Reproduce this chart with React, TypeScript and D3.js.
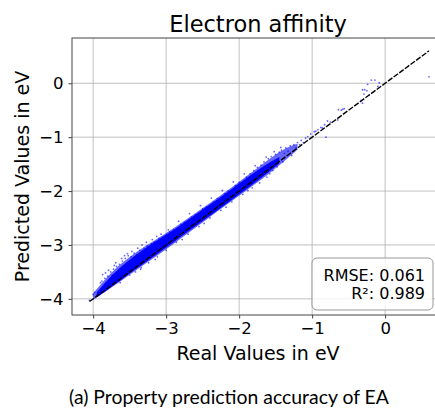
import React, { useEffect, useRef } from "react";
import * as d3 from "d3";

// values (eV)
const xTicks = [-4, -3, -2, -1, 0];
const yTicks = [-4, -3, -2, -1, 0];

// dense core of the cloud: real value -> predicted range
const coreReal = [-3.95, -3.8, -3.6, -3.4, -3.2, -3.0, -2.8, -2.6, -2.4, -2.2, -2.0, -1.8, -1.6, -1.45];
const coreLow = [-3.97, -3.83, -3.63, -3.43, -3.24, -3.05, -2.85, -2.65, -2.46, -2.26, -2.06, -1.86, -1.65, -1.49];
const coreHigh = [-3.88, -3.64, -3.38, -3.17, -2.98, -2.81, -2.63, -2.44, -2.25, -2.06, -1.86, -1.66, -1.48, -1.37];

// lighter halo around the core
const haloReal = [-4.0, -3.8, -3.6, -3.4, -3.2, -3.0, -2.8, -2.6, -2.4, -2.2, -2.0, -1.8, -1.6, -1.4, -1.2];
const haloLow = [-4.02, -3.84, -3.65, -3.46, -3.27, -3.08, -2.88, -2.68, -2.48, -2.28, -2.09, -1.89, -1.69, -1.47, -1.23];
const haloHigh = [-3.9, -3.57, -3.32, -3.12, -2.95, -2.78, -2.6, -2.41, -2.22, -2.03, -1.83, -1.62, -1.42, -1.22, -1.12];

// loose points [real, predicted]
const points = [
  [-4.05, -4.03], [-4.0, -3.92], [-3.98, -3.88], [-3.95, -3.93], [-3.9, -3.7], [-3.88, -3.67],
  [-3.86, -3.8], [-3.84, -3.62], [-3.82, -3.75], [-3.8, -3.58], [-3.78, -3.66], [-3.76, -3.5],
  [-3.74, -3.56], [-3.72, -3.45], [-3.7, -3.62], [-3.68, -3.4], [-3.66, -3.52], [-3.64, -3.36],
  [-3.63, -3.7], [-3.62, -3.46], [-3.6, -3.3], [-3.58, -3.42], [-3.56, -3.25], [-3.54, -3.36],
  [-3.52, -3.2], [-3.5, -3.56], [-3.48, -3.22], [-3.46, -3.3], [-3.44, -3.15], [-3.42, -3.5],
  [-3.4, -3.18], [-3.36, -3.1], [-3.34, -3.42], [-3.3, -3.08], [-3.26, -3.02], [-3.24, -3.33],
  [-3.2, -2.98], [-3.16, -2.95], [-3.12, -3.22], [-3.1, -2.88], [-3.05, -2.86], [-3.0, -3.1],
  [-2.95, -2.76], [-2.9, -2.72], [-2.86, -2.95], [-2.8, -2.62], [-2.75, -2.58], [-2.7, -2.8],
  [-2.65, -2.48], [-2.6, -2.44], [-2.55, -2.66], [-2.5, -2.33], [-2.45, -2.3], [-2.4, -2.5],
  [-2.35, -2.2], [-2.3, -2.14], [-2.25, -2.36], [-2.2, -2.05], [-2.15, -2.0], [-2.1, -2.2],
  [-2.05, -1.9], [-2.0, -1.84], [-1.95, -2.06], [-1.9, -1.74], [-1.85, -1.68], [-1.82, -1.94],
  [-1.8, -1.62], [-1.75, -1.56], [-1.72, -1.85], [-1.7, -1.52], [-1.66, -1.46], [-1.62, -1.74],
  [-1.6, -1.4], [-1.56, -1.36], [-1.54, -1.62], [-1.5, -1.32], [-1.48, -1.55], [-1.45, -1.28],
  [-1.42, -1.24], [-1.4, -1.46], [-1.38, -1.3], [-1.36, -1.2], [-1.33, -1.26], [-1.3, -1.16],
  [-1.28, -1.34], [-1.25, -1.14], [-1.22, -1.2], [-1.2, -1.1], [-1.17, -1.14], [-1.15, -1.06],
  [-1.12, -1.1], [-1.09, -1.02], [-1.06, -0.99], [-1.02, -0.94], [-0.97, -0.9], [-0.95, -0.89],
  [-0.92, -0.86], [-0.88, -0.82], [-0.86, -0.83], [-0.83, -0.77], [-0.81, -1.0], [-0.79, -0.7],
  [-0.75, -0.72], [-0.65, -0.68], [-0.64, -0.49], [-0.6, -0.5], [-0.58, -0.48], [-0.56, -0.47],
  [-0.33, -0.32], [-0.31, -0.37], [-0.31, -0.12], [-0.29, -0.2], [-0.28, -0.12], [-0.25, -0.14],
  [-0.24, -0.02], [-0.22, -0.22], [-0.19, 0.06], [-0.14, 0.06], [-0.1, -0.06], [-0.08, 0.01],
  [0.6, 0.12],
  [-3.87, -3.55], [-3.83, -3.52], [-3.79, -3.47], [-3.71, -3.38], [-3.69, -3.33], [-3.61, -3.25],
  [-3.57, -3.2], [-3.53, -3.16], [-3.47, -3.12], [-3.39, -3.06], [-3.33, -3.0], [-3.27, -2.95],
  [-3.19, -2.9], [-3.13, -2.84], [-3.07, -2.8], [-2.97, -2.72], [-2.83, -2.56], [-2.68, -2.42],
  [-2.53, -2.27], [-2.38, -2.13], [-2.23, -1.99], [-2.08, -1.83], [-1.93, -1.68], [-1.78, -1.53],
  [-1.63, -1.37], [-1.52, -1.27], [-1.43, -1.19], [-3.35, -3.45], [-3.15, -3.27], [-2.78, -2.9],
  [-2.48, -2.6], [-2.18, -2.3], [-1.88, -1.99], [-1.58, -1.68],
];

const parityLine = [[-4.05, -4.05], [0.6, 0.6]];
const statLines = ["RMSE: 0.061", "R\u00b2: 0.989"];

const FONT = "DejaVu Sans, sans-serif";

export default function App() {
  const ref = useRef<SVGSVGElement>(null);

  useEffect(() => {
    const svg = d3.select(ref.current);
    svg.selectAll("*").remove();

    const left = 72, right = 435.5, top = 38, bottom = 315;
    const x = d3.scaleLinear().domain([-4.29, 0.69]).range([left, right]);
    const y = d3.scaleLinear().domain([-4.3, 0.84]).range([bottom, top]);

    svg.append("rect").attr("width", 435).attr("height", 412).attr("fill", "#fff");

    // grid
    const grid = svg.append("g").attr("stroke", "#b0b0b0").attr("stroke-width", 0.8);
    xTicks.forEach(t => {
      grid.append("line").attr("x1", x(t)).attr("x2", x(t)).attr("y1", top).attr("y2", bottom);
    });
    yTicks.forEach(t => {
      grid.append("line").attr("x1", left).attr("x2", right).attr("y1", y(t)).attr("y2", y(t));
    });

    const plot = svg.append("g");
    const band = d3
      .area<number[]>()
      .x(d => x(d[0]))
      .y0(d => y(d[1]))
      .y1(d => y(d[2]))
      .curve(d3.curveBasis);

    const halo = haloReal.map((r, i) => [r, haloLow[i], haloHigh[i]]);
    plot
      .append("path")
      .datum(halo)
      .attr("fill", "#0000ff")
      .attr("fill-opacity", 0.6)
      .attr("d", band);

    const core = coreReal.map((r, i) => [r, coreLow[i], coreHigh[i]]);
    plot
      .append("path")
      .datum(core)
      .attr("fill", "#0000ff")
      .attr("d", band);

    plot
      .selectAll("circle")
      .data(points)
      .enter()
      .append("circle")
      .attr("cx", d => x(d[0]))
      .attr("cy", d => y(d[1]))
      .attr("r", 0.9)
      .attr("fill", "#0000ff")
      .attr("fill-opacity", 0.6);

    plot
      .append("path")
      .datum(parityLine)
      .attr("fill", "none")
      .attr("stroke", "#000")
      .attr("stroke-width", 1.4)
      .attr("stroke-dasharray", "5.5,1.5")
      .attr("d", d3.line<number[]>().x(d => x(d[0])).y(d => y(d[1])));

    // frame (right side runs off the picture)
    svg
      .append("rect")
      .attr("x", left)
      .attr("y", top)
      .attr("width", right - left + 2)
      .attr("height", bottom - top)
      .attr("fill", "none")
      .attr("stroke", "#444")
      .attr("stroke-width", 1);

    // axes
    svg
      .append("g")
      .attr("transform", `translate(0,${bottom})`)
      .call(d3.axisBottom(x).tickValues(xTicks).tickSize(3.5).tickPadding(4).tickFormat(d3.format("d")))
      .call(g => g.select(".domain").remove())
      .call(g => g.selectAll("line").attr("stroke", "#444"))
      .call(g => g.selectAll("text").attr("font-family", FONT).attr("font-size", 16.5).attr("fill", "#000"));

    svg
      .append("g")
      .attr("transform", `translate(${left},0)`)
      .call(d3.axisLeft(y).tickValues(yTicks).tickSize(3.5).tickPadding(5).tickFormat(d3.format("d")))
      .call(g => g.select(".domain").remove())
      .call(g => g.selectAll("line").attr("stroke", "#444"))
      .call(g => g.selectAll("text").attr("font-family", FONT).attr("font-size", 16.5).attr("fill", "#000"));

    // stats box
    svg
      .append("rect")
      .attr("x", 312)
      .attr("y", 258)
      .attr("width", 121)
      .attr("height", 52)
      .attr("rx", 5)
      .attr("fill", "#fff")
      .attr("fill-opacity", 0.8)
      .attr("stroke", "#999")
      .attr("stroke-width", 1);

    statLines.forEach((s, i) => {
      svg
        .append("text")
        .attr("x", 425)
        .attr("y", 281 + i * 17.5)
        .attr("text-anchor", "end")
        .attr("font-family", FONT)
        .attr("font-size", 16)
        .text(s);
    });

    svg
      .append("text")
      .attr("x", 258)
      .attr("y", 32)
      .attr("text-anchor", "middle")
      .attr("font-family", FONT)
      .attr("font-size", 22.5)
      .text("Electron affinity");

    svg
      .append("text")
      .attr("x", 258)
      .attr("y", 360)
      .attr("text-anchor", "middle")
      .attr("font-family", FONT)
      .attr("font-size", 19)
      .text("Real Values in eV");

    svg
      .append("text")
      .attr("transform", `translate(29,${(top + bottom) / 2}) rotate(-90)`)
      .attr("text-anchor", "middle")
      .attr("font-family", FONT)
      .attr("font-size", 19)
      .text("Predicted Values in eV");

    svg
      .append("text")
      .attr("x", 229)
      .attr("y", 404)
      .attr("text-anchor", "middle")
      .attr("font-family", "Lato, sans-serif")
      .attr("font-size", 19.4)
      .text("(a) Property prediction accuracy of EA");
  }, []);

  return (
    <svg
      ref={ref}
      width={435}
      height={412}
      style={{ position: "absolute", left: 0, top: 0, display: "block" }}
    />
  );
}
